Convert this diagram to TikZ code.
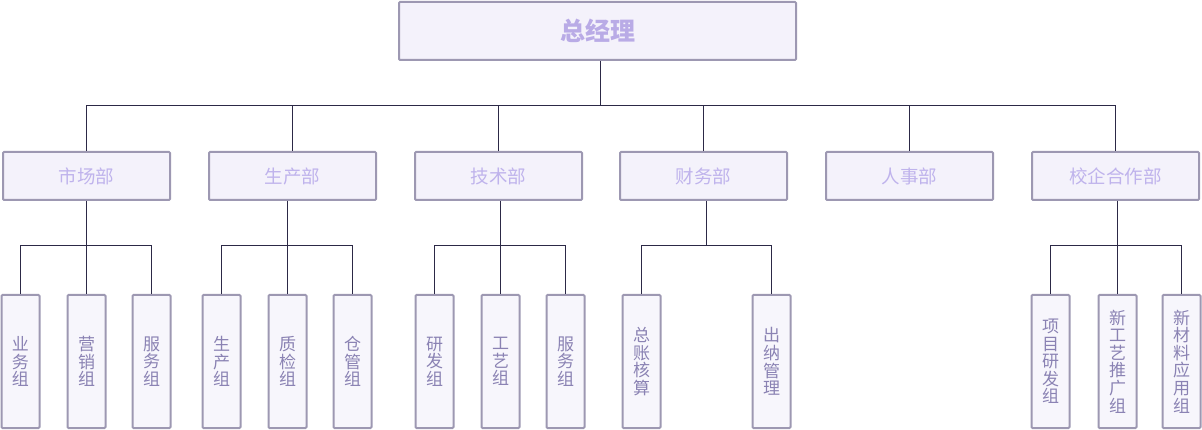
\documentclass[tikz,border=0pt]{standalone}
\usepackage{fontspec}
\setmainfont{Noto Sans CJK SC}
\definecolor{boxfill}{HTML}{F4F2FB}
\definecolor{leaffill}{HTML}{F7F6FC}
\definecolor{boxline}{HTML}{9D98B2}
\definecolor{titletext}{HTML}{B9ABE6}
\definecolor{depttext}{HTML}{BFB3EC}
\definecolor{leaftext}{HTML}{8A82B3}
\definecolor{linkcol}{HTML}{2C2946}
\tikzset{
  base/.style={draw=boxline, line width=2pt, rounded corners=1pt, inner sep=0pt, anchor=center},
  topbox/.style={base, fill=boxfill, minimum width=397pt, minimum height=58pt, text=titletext, font=\fontsize{25}{25}\selectfont\bfseries},
  deptbox/.style={base, fill=boxfill, minimum width=167pt, minimum height=48pt, text=depttext, font=\fontsize{18.5}{18.5}\selectfont},
  leafbox/.style={base, fill=leaffill, minimum width=38pt, minimum height=133pt, text=leaftext, align=center, font=\fontsize{17}{17.6}\selectfont},
  link/.style={draw=linkcol, line width=1.3pt}
}
\begin{document}
\begin{tikzpicture}[x=1pt,y=-1pt]
\useasboundingbox (0,0) rectangle (1202,430);
% top
\node[topbox] (top) at (597.5,31) {总经理};
% departments
\node[deptbox] (d1) at (86.5,176) {市场部};
\node[deptbox] (d2) at (292.5,176) {生产部};
\node[deptbox] (d3) at (498.5,176) {技术部};
\node[deptbox] (d4) at (703.5,176) {财务部};
\node[deptbox] (d5) at (909.5,176) {人事部};
\node[deptbox] (d6) at (1115.5,176) {校企合作部};
% leaves
\node[leafbox] (l11) at (20.5,361.5) {业\\务\\组};
\node[leafbox] (l12) at (86.5,361.5) {营\\销\\组};
\node[leafbox] (l13) at (151.5,361.5) {服\\务\\组};
\node[leafbox] (l21) at (221.5,361.5) {生\\产\\组};
\node[leafbox] (l22) at (287.5,361.5) {质\\检\\组};
\node[leafbox] (l23) at (352.5,361.5) {仓\\管\\组};
\node[leafbox] (l31) at (434.5,361.5) {研\\发\\组};
\node[leafbox] (l32) at (500.5,361.5) {工\\艺\\组};
\node[leafbox] (l33) at (565.5,361.5) {服\\务\\组};
\node[leafbox] (l41) at (641.5,361.5) {总\\账\\核\\算};
\node[leafbox] (l42) at (771.5,361.5) {出\\纳\\管\\理};
\node[leafbox] (l61) at (1050.5,361.5) {项\\目\\研\\发\\组};
\node[leafbox] (l62) at (1117.5,361.5) {新\\工\\艺\\推\\广\\组};
\node[leafbox] (l63) at (1181.5,361.5) {新\\材\\料\\应\\用\\组};
% hubs
\coordinate (hub) at (600.5,105.5);
\coordinate (g4) at (706.5,245.5);
% connectors: top level
\draw[link] (top.south -| hub) -- (hub);
\draw[link] (d1.north) -- (d1.north |- hub) -- (d6.north |- hub) -- (d6.north);
\foreach \d in {d2,d3,d4,d5} \draw[link] (\d.north |- hub) -- (\d.north);
% groups of three
\foreach \a/\b/\c/\d in {l11/l12/l13/d1, l21/l22/l23/d2, l31/l32/l33/d3, l61/l62/l63/d6} {
  \draw[link] (\a.north) -- (\a.north |- g4) -- (\c.north |- g4) -- (\c.north);
  \draw[link] (\d.south -| \b.north) -- (\b.north);
}
% group of two
\draw[link] (l41.north) -- (l41.north |- g4) -- (l42.north |- g4) -- (l42.north);
\draw[link] (d4.south -| g4) -- (g4);
\end{tikzpicture}
\end{document}
